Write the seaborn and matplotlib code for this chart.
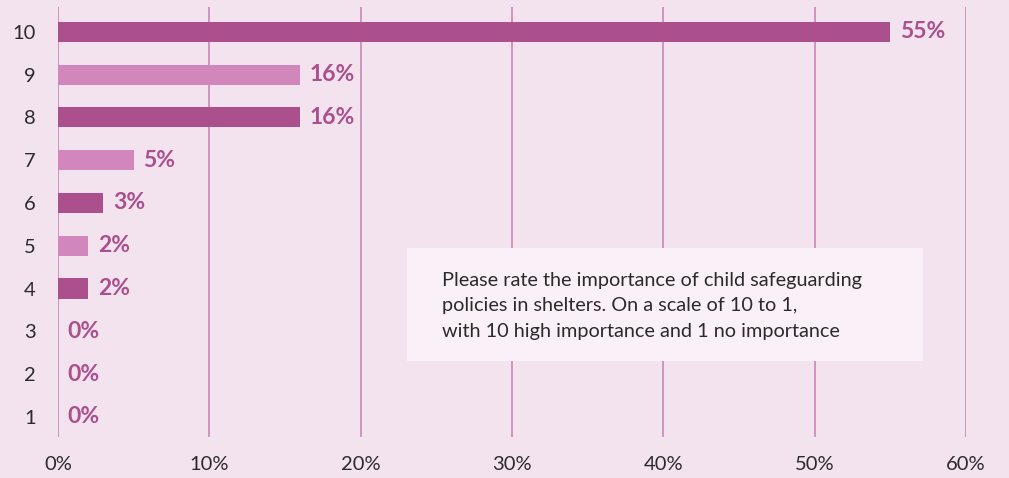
import matplotlib
matplotlib.use("Agg")
import matplotlib.pyplot as plt
import seaborn as sns
import pandas as pd

ratings = ["10", "9", "8", "7", "6", "5", "4", "3", "2", "1"]
percent = [55, 16, 16, 5, 3, 2, 2, 0, 0, 0]
shade = ["dark", "light", "dark", "light", "dark", "light", "dark", "light", "dark", "light"]
x_ticks = [0, 10, 20, 30, 40, 50, 60]
note = ("Please rate the importance of child safeguarding\n"
        "policies in shelters. On a scale of 10 to 1,\n"
        "with 10 high importance and 1 no importance")

BG = "#F3E3EF"
DARK = "#AB4F8D"
LIGHT = "#D187BC"
GRID = "#C97DB3"
TXT = "#2B2B2B"

sns.set_theme(style="white")
plt.rcParams['font.family'] = ['Lato', 'DejaVu Sans']

df = pd.DataFrame({"rating": ratings, "percent": percent, "shade": shade})

fig = plt.figure(figsize=(10.09, 4.78), dpi=100)
fig.patch.set_facecolor(BG)
ax = fig.add_axes([58 / 1009, (478 - 437) / 478, (966 - 58) / 1009, 430 / 478])
ax.set_facecolor(BG)

sns.barplot(data=df, x="percent", y="rating", hue="shade", order=ratings,
            palette={"dark": DARK, "light": LIGHT}, orient="h", dodge=False,
            width=0.47, legend=False, ax=ax, zorder=3, saturation=1,
            linewidth=0, edgecolor="none")

ax.set_xlim(0, 60)
ax.set_ylim(9.47, -0.58)
ax.set_xticks(x_ticks)
ax.set_xticklabels([f"{t}%" for t in x_ticks])
for t in x_ticks:
    ax.axvline(t, color=GRID, lw=1.1, zorder=1)
for s in ax.spines.values():
    s.set_visible(False)
ax.tick_params(axis="both", length=0, labelsize=14.5, colors=TXT)
ax.tick_params(axis="x", pad=14)
ax.tick_params(axis="y", pad=16)
ax.set_xlabel("")
ax.set_ylabel("")

for i, v in enumerate(percent):
    ax.annotate(f"{v}%", xy=(v, i), xytext=(7, 0), textcoords="offset points",
                ha="left", va="center", fontsize=16.5, fontweight="bold",
                color=DARK, zorder=4)

fig.patches.append(plt.Rectangle((407 / 1009, (478 - 361) / 478), 516 / 1009, 113 / 478,
                                 transform=fig.transFigure, facecolor="#FAF0F7",
                                 edgecolor="none", zorder=5))
fig.text(442 / 1009, (478 - 306) / 478, note, ha="left", va="center",
         fontsize=14.3, color=TXT, linespacing=1.6, zorder=6)

fig.savefig("out.png", dpi=100, facecolor=BG)
